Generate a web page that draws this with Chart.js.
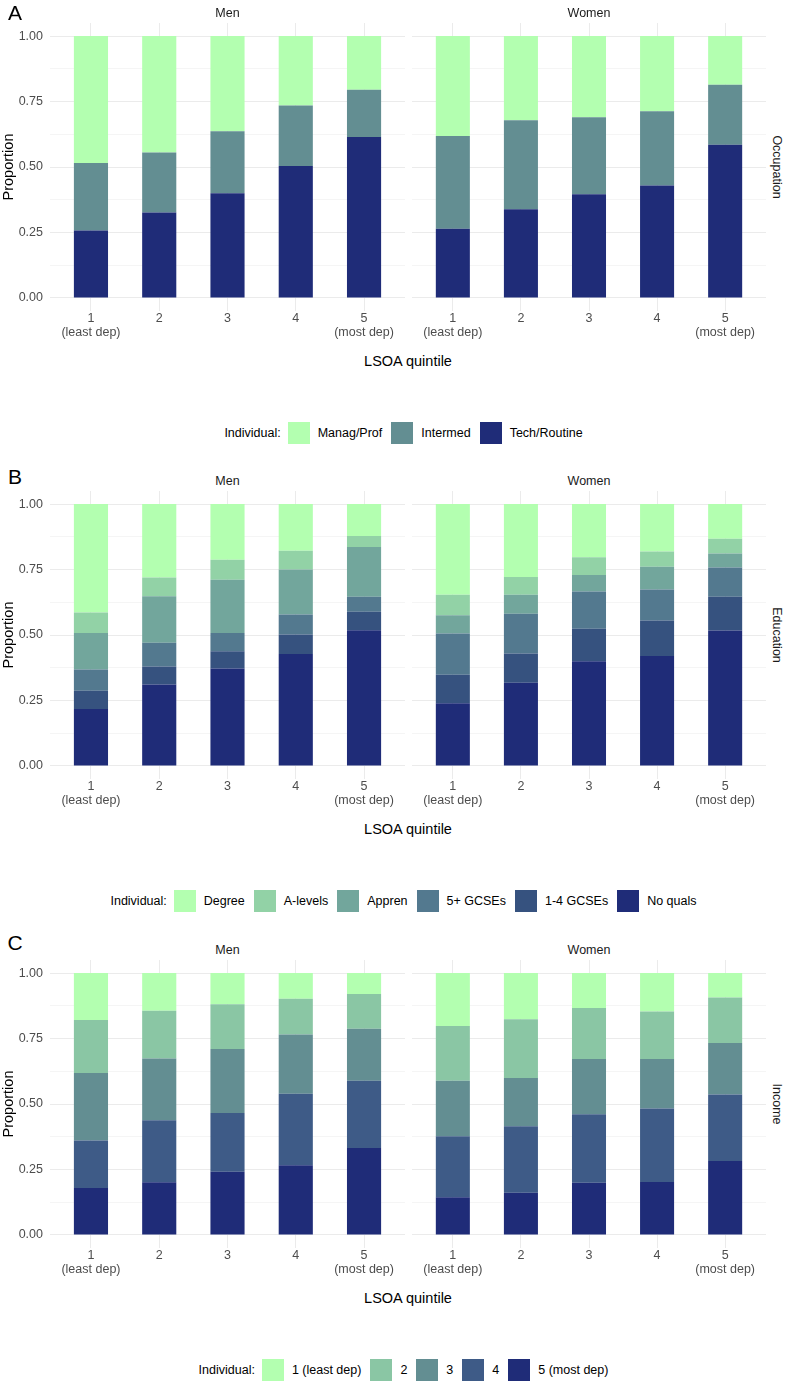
<!DOCTYPE html>
<html>
<head>
<meta charset="utf-8">
<script src="https://cdn.jsdelivr.net/npm/chart.js@4.4.1/dist/chart.umd.min.js"></script>
<style>
  body { margin: 0; background: #fff; font-family: "Liberation Sans", Arial, sans-serif; }
  #page { position: relative; width: 787px; height: 1384px; overflow: hidden; background: #fff; }
  #page canvas { position: absolute; }
  .txt { position: absolute; white-space: nowrap; transform: translate(-50%, -50%); line-height: 1; }
  .letter { font-size: 21px; color: #000; }
  .strip { font-size: 12.5px; color: #1a1a1a; }
  .stripR { font-size: 12.5px; color: #1a1a1a; transform: translate(-50%, -50%) rotate(90deg); }
  .xtitle { font-size: 14.5px; color: #000; }
  .legend { position: absolute; left: 50px; width: 716px; height: 22px; display: flex;
            justify-content: center; align-items: center; font-size: 12.5px; color: #000; }
  .legend .box { width: 22px; height: 22px; margin: 0 8px 0 0; }
  .legend .lab { margin-right: 9px; }
  .legend .head { margin-right: 7px; }
</style>
</head>
<body>
<div id="page"></div>
<script>
// x categories and tick labels
const quintiles = [1, 2, 3, 4, 5];
const quintileLabels = [['1', '(least dep)'], '2', '3', '4', ['5', '(most dep)']];
const yMajorTicks = [0, 0.25, 0.5, 0.75, 1];
const yMinorTicks = [0.125, 0.375, 0.625, 0.875];
const facets = ['Men', 'Women'];

// A - occupation (proportions per LSOA quintile)
const occManagMen = [0.485, 0.445, 0.363, 0.265, 0.205];
const occIntermedMen = [0.258, 0.229, 0.237, 0.231, 0.180];
const occTechMen = [0.257, 0.326, 0.400, 0.504, 0.615];
const occManagWomen = [0.382, 0.321, 0.310, 0.287, 0.186];
const occIntermedWomen = [0.354, 0.340, 0.294, 0.284, 0.229];
const occTechWomen = [0.264, 0.339, 0.396, 0.429, 0.585];

// B - education
const eduDegreeMen = [0.414, 0.280, 0.213, 0.178, 0.122];
const eduAlevelsMen = [0.078, 0.072, 0.076, 0.072, 0.042];
const eduApprenMen = [0.140, 0.178, 0.203, 0.172, 0.190];
const eduGcse5Men = [0.081, 0.090, 0.070, 0.076, 0.057];
const eduGcse14Men = [0.070, 0.069, 0.066, 0.075, 0.071];
const eduNoQualsMen = [0.217, 0.311, 0.372, 0.427, 0.518];
const eduDegreeWomen = [0.346, 0.278, 0.203, 0.181, 0.132];
const eduAlevelsWomen = [0.079, 0.068, 0.068, 0.058, 0.057];
const eduApprenWomen = [0.069, 0.073, 0.063, 0.087, 0.053];
const eduGcse5Women = [0.158, 0.152, 0.142, 0.119, 0.112];
const eduGcse14Women = [0.109, 0.111, 0.124, 0.135, 0.129];
const eduNoQualsWomen = [0.239, 0.318, 0.400, 0.420, 0.517];

// C - income quintile
const inc1Men = [0.179, 0.144, 0.119, 0.098, 0.080];
const inc2Men = [0.203, 0.182, 0.171, 0.137, 0.133];
const inc3Men = [0.257, 0.236, 0.244, 0.226, 0.198];
const inc4Men = [0.182, 0.237, 0.225, 0.273, 0.257];
const inc5Men = [0.179, 0.201, 0.241, 0.266, 0.332];
const inc1Women = [0.202, 0.176, 0.133, 0.147, 0.093];
const inc2Women = [0.209, 0.225, 0.195, 0.181, 0.174];
const inc3Women = [0.212, 0.184, 0.211, 0.189, 0.197];
const inc4Women = [0.233, 0.254, 0.262, 0.281, 0.254];
const inc5Women = [0.144, 0.161, 0.199, 0.202, 0.282];

// series listed top of the bar first (legend order)
const panels = [
  {
    letter: 'A', letterY: 12, strip: 'Occupation', top: 23,
    labels: ['Manag/Prof', 'Intermed', 'Tech/Routine'],
    colors: ['#b3ffb0', '#638e92', '#1f2c78'],
    Men: [occManagMen, occIntermedMen, occTechMen],
    Women: [occManagWomen, occIntermedWomen, occTechWomen]
  },
  {
    letter: 'B', letterY: 476, strip: 'Education', top: 491,
    labels: ['Degree', 'A-levels', 'Appren', '5+ GCSEs', '1-4 GCSEs', 'No quals'],
    colors: ['#b3ffb0', '#92d2a6', '#72a69c', '#53798f', '#36527f', '#1f2c78'],
    Men: [eduDegreeMen, eduAlevelsMen, eduApprenMen, eduGcse5Men, eduGcse14Men, eduNoQualsMen],
    Women: [eduDegreeWomen, eduAlevelsWomen, eduApprenWomen, eduGcse5Women, eduGcse14Women, eduNoQualsWomen]
  },
  {
    letter: 'C', letterY: 942, strip: 'Income', top: 960,
    labels: ['1 (least dep)', '2', '3', '4', '5 (most dep)'],
    colors: ['#b3ffb0', '#8ac6a4', '#638e92', '#3e5b87', '#1f2c78'],
    Men: [inc1Men, inc2Men, inc3Men, inc4Men, inc5Men],
    Women: [inc1Women, inc2Women, inc3Women, inc4Women, inc5Women]
  }
];

const FONT = '"Liberation Sans", Arial, sans-serif';
const page = document.getElementById('page');

function addText(cls, text, x, y) {
  const d = document.createElement('div');
  d.className = 'txt ' + cls;
  d.textContent = text;
  d.style.left = x + 'px';
  d.style.top = y + 'px';
  page.appendChild(d);
}

function drawFacet(panel, facet, left, width, showY) {
  const cv = document.createElement('canvas');
  cv.width = width;
  cv.height = 328;
  cv.style.left = left + 'px';
  cv.style.top = panel.top + 'px';
  page.appendChild(cv);

  const values = panel[facet];
  const datasets = values.map((vals, i) => ({
    label: panel.labels[i],
    data: quintiles.map((q, j) => ({ x: q, y: vals[j] })),
    backgroundColor: panel.colors[i],
    borderWidth: 0,
    barPercentage: 0.5,
    categoryPercentage: 1
  })).reverse();

  new Chart(cv, {
    type: 'bar',
    data: { datasets: datasets },
    options: {
      responsive: false,
      animation: false,
      layout: { padding: 0 },
      plugins: { legend: { display: false }, tooltip: { enabled: false } },
      scales: {
        x: {
          type: 'linear', min: 0.4, max: 5.6, stacked: true, offset: false,
          afterBuildTicks: s => { s.ticks = quintiles.map(v => ({ value: v })); },
          afterFit: s => { s.height = 40; s.paddingLeft = 0; s.paddingRight = 0; },
          ticks: {
            callback: v => quintileLabels[v - 1],
            color: '#4d4d4d', font: { family: FONT, size: 12.5, lineHeight: 1.1 },
            padding: 1, maxRotation: 0, autoSkip: false
          },
          grid: { color: '#ebebeb', lineWidth: 1, drawTicks: false, offset: false },
          border: { display: false }
        },
        y: {
          min: -0.05, max: 1.05, stacked: true,
          afterBuildTicks: s => {
            s.ticks = yMajorTicks.concat(yMinorTicks).sort((a, b) => a - b).map(v => ({ value: v }));
          },
          afterFit: s => { s.width = showY ? 50 : 0; s.paddingTop = 0; s.paddingBottom = 0; },
          ticks: {
            display: showY, autoSkip: false, padding: 7,
            callback: v => yMajorTicks.includes(v) ? v.toFixed(2) : '',
            color: '#4d4d4d', font: { family: FONT, size: 12.5 }
          },
          grid: {
            drawTicks: false,
            color: c => yMajorTicks.includes(c.tick.value) ? '#ebebeb' : '#f2f2f2',
            lineWidth: c => yMajorTicks.includes(c.tick.value) ? 1 : 0.8
          },
          border: { display: false },
          title: {
            display: showY, text: 'Proportion', color: '#000',
            font: { family: FONT, size: 14.5 }, padding: { top: 0, bottom: 0 }
          }
        }
      }
    }
  });
}

panels.forEach(p => {
  drawFacet(p, 'Men', 0, 405, true);
  drawFacet(p, 'Women', 412, 354, false);

  addText('letter', p.letter, 15, p.letterY);
  addText('strip', facets[0], 227.5, p.top - 10);
  addText('strip', facets[1], 589, p.top - 10);
  addText('stripR', p.strip, 777, p.top + 144);
  addText('xtitle', 'LSOA quintile', 408, p.top + 338);

  const lg = document.createElement('div');
  lg.className = 'legend';
  lg.style.top = (p.top + 399) + 'px';
  const head = document.createElement('span');
  head.className = 'head';
  head.textContent = 'Individual:';
  lg.appendChild(head);
  p.labels.forEach((lab, i) => {
    const b = document.createElement('span');
    b.className = 'box';
    b.style.background = p.colors[i];
    lg.appendChild(b);
    const t = document.createElement('span');
    t.className = 'lab';
    t.textContent = lab;
    lg.appendChild(t);
  });
  page.appendChild(lg);
});
</script>
</body>
</html>
